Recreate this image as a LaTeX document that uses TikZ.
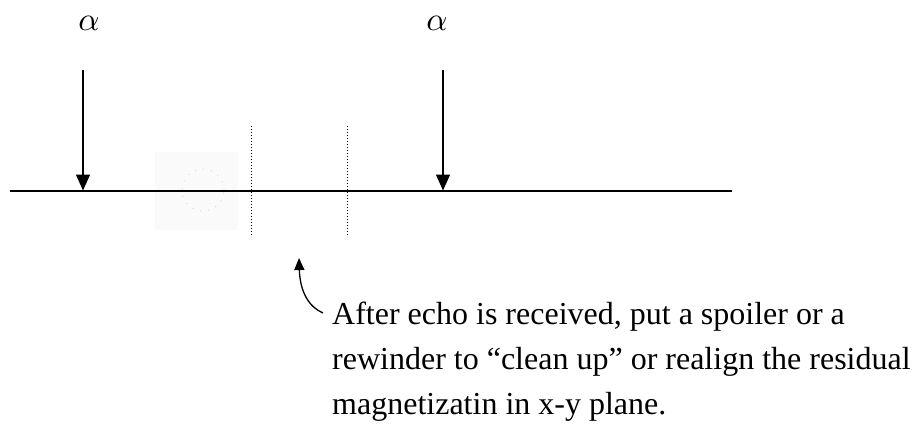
\documentclass[tikz,border=0pt]{standalone}
\usepackage{fontspec}
\setmainfont{Liberation Serif}
\usetikzlibrary{arrows.meta}
\begin{document}
\begin{tikzpicture}[x=1pt,y=-1pt,
  pulse/.style={line width=1.5pt,-{Triangle[length=16pt,width=14pt]}},
  guide/.style={line width=1pt,dotted},
  txt/.style={anchor=base west,inner sep=0pt,font=\fontsize{32}{37}\selectfont},
  lbl/.style={inner sep=0pt}]
\useasboundingbox (0,0) rectangle (915,428);
% faint artifact
\fill[black!2] (155,152) rectangle (238,230);
\draw[gray!35,line width=0.8pt,dash pattern=on 1pt off 7pt] (203,190) circle (21pt);
% baseline
\coordinate (L) at (10,190.5);
\coordinate (R) at (732,190.5);
\draw[line width=2pt] (L) -- (R);
% pulses
\node[lbl] (a1) at (89,23) {\scalebox{3.3}{$\alpha$}};
\node[lbl] (a2) at (437,23) {\scalebox{3.3}{$\alpha$}};
\coordinate (p1s) at (83,70);
\coordinate (p1e) at (83,190.5);
\coordinate (p2s) at (443,70);
\coordinate (p2e) at (443,190.5);
\draw[pulse] (p1s) -- (p1e);
\draw[pulse] (p2s) -- (p2e);
% dotted guides
\coordinate (d1t) at (251,126);
\coordinate (d1b) at (251,237);
\coordinate (d2t) at (347,126);
\coordinate (d2b) at (347,237);
\draw[guide] (d1t) -- (d1b);
\draw[guide] (d2t) -- (d2b);
% text
\node[txt] (t1) at (332,324) {After echo is received, put a spoiler or a};
\node[txt] (t2) at (332,369) {rewinder to “clean up” or realign the residual};
\node[txt] (t3) at (332,414) {magnetizatin in x-y plane.};
% curved arrow
\coordinate (cs) at (323,313);
\coordinate (ce) at (299,258);
\draw[line width=1.3pt,-{Triangle[length=12pt,width=10pt]}] (cs) .. controls (309,307) and (300,292) .. (ce);
\end{tikzpicture}
\end{document}
